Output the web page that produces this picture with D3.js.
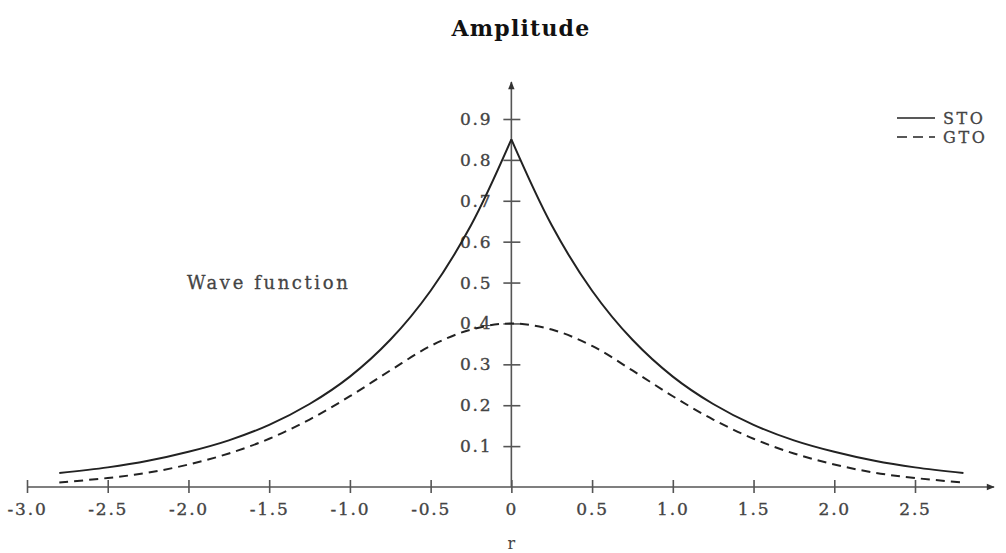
<!DOCTYPE html>
<html>
<head>
<meta charset="utf-8">
<script src="https://cdn.jsdelivr.net/npm/d3@7"></script>
<style>
  body { margin: 0; background: #fff; }
  svg text { font-family: "DejaVu Serif", "Liberation Serif", serif; }
</style>
</head>
<body>
<svg id="chart" width="1006" height="553"></svg>
<script>
// values
var rValues = [-2.8, -2.5, -2.25, -2.0, -1.75, -1.5, -1.25, -1.0, -0.75, -0.5, -0.25, 0,
               0.25, 0.5, 0.75, 1.0, 1.25, 1.5, 1.75, 2.0, 2.25, 2.5, 2.8]
var stoValues = [0.034, 0.048, 0.064, 0.086, 0.114, 0.152, 0.203, 0.27, 0.36, 0.48, 0.64, 0.85,
                 0.64, 0.48, 0.36, 0.27, 0.203, 0.152, 0.114, 0.086, 0.064, 0.048, 0.034]
var gtoValues = [0.011, 0.022, 0.035, 0.055, 0.082, 0.118, 0.165, 0.222, 0.285, 0.345, 0.385, 0.4,
                 0.385, 0.345, 0.285, 0.222, 0.165, 0.118, 0.082, 0.055, 0.035, 0.022, 0.011]
var xTicks = [-3.0, -2.5, -2.0, -1.5, -1.0, -0.5, 0, 0.5, 1.0, 1.5, 2.0, 2.5]
var xTickLabels = ["-3.0", "-2.5", "-2.0", "-1.5", "-1.0", "-0.5", "0", "0.5", "1.0", "1.5", "2.0", "2.5"]
var yTicks = [0.1, 0.2, 0.3, 0.4, 0.5, 0.6, 0.7, 0.8, 0.9]
var yTickLabels = ["0.1", "0.2", "0.3", "0.4", "0.5", "0.6", "0.7", "0.8", "0.9"]
var seriesNames = ["STO", "GTO"]

var svg = d3.select("#chart")

var x = d3.scaleLinear().domain([-3, 2.5]).range([27, 915])
var y = d3.scaleLinear().domain([0, 0.9]).range([487, 119])

var axisColor = "#555"
var lineColor = "#222"
var textColor = "#444"

svg.append("defs").append("marker")
    .attr("id", "arrow")
    .attr("viewBox", "0 0 10 10")
    .attr("refX", 9)
    .attr("refY", 5)
    .attr("markerWidth", 10)
    .attr("markerHeight", 8)
    .attr("markerUnits", "userSpaceOnUse")
    .attr("orient", "auto")
    .append("path")
    .attr("d", "M0,1 L10,5 L0,9 Z")
    .attr("fill", "#333")

// title
svg.append("text")
    .attr("x", 521)
    .attr("y", 36)
    .attr("text-anchor", "middle")
    .attr("font-size", 22)
    .attr("font-weight", "bold")
    .attr("letter-spacing", 1.2)
    .attr("fill", "#111")
    .text("Amplitude")

// x axis
var xAxis = d3.axisBottom(x)
    .tickValues(xTicks)
    .tickSize(6)
    .tickFormat((d, i) => xTickLabels[i])

var gx = svg.append("g")
    .attr("transform", "translate(0," + y(0) + ")")
    .call(xAxis)

gx.select(".domain").remove()
gx.selectAll(".tick line")
    .attr("y1", -7)
    .attr("y2", 6)
    .attr("stroke", axisColor)
    .attr("stroke-width", 1.6)
gx.selectAll(".tick text")
    .attr("y", 16)
    .attr("font-size", 17)
    .attr("letter-spacing", 1.8)
    .attr("fill", textColor)
    .attr("stroke", textColor)
    .attr("stroke-width", 0.35)
    .style("font-family", "DejaVu Serif")

svg.append("line")
    .attr("x1", x(-3))
    .attr("x2", 994)
    .attr("y1", y(0))
    .attr("y2", y(0))
    .attr("stroke", axisColor)
    .attr("stroke-width", 1.6)
    .attr("marker-end", "url(#arrow)")

// y axis
var yAxis = d3.axisLeft(y)
    .tickValues(yTicks)
    .tickSize(8)
    .tickFormat((d, i) => yTickLabels[i])

var gy = svg.append("g")
    .attr("transform", "translate(" + x(0) + ",0)")
    .call(yAxis)

gy.select(".domain").remove()
gy.selectAll(".tick line")
    .attr("x1", -8)
    .attr("x2", 9)
    .attr("stroke", axisColor)
    .attr("stroke-width", 1.6)
gy.selectAll(".tick text")
    .attr("x", -19)
    .attr("font-size", 17)
    .attr("letter-spacing", 1.8)
    .attr("fill", textColor)
    .attr("stroke", textColor)
    .attr("stroke-width", 0.35)
    .style("font-family", "DejaVu Serif")

svg.append("line")
    .attr("x1", x(0))
    .attr("x2", x(0))
    .attr("y1", y(0))
    .attr("y2", 82)
    .attr("stroke", axisColor)
    .attr("stroke-width", 1.6)
    .attr("marker-end", "url(#arrow)")

// curves
var points = rValues.map((r, i) => ({ r: r, sto: stoValues[i], gto: gtoValues[i] }))
var zeroIndex = rValues.indexOf(0)

var stoLine = d3.line()
    .x(d => x(d.r))
    .y(d => y(d.sto))
    .curve(d3.curveCatmullRom.alpha(0.5))

var gtoLine = d3.line()
    .x(d => x(d.r))
    .y(d => y(d.gto))
    .curve(d3.curveCatmullRom.alpha(0.5))

// STO has a cusp at r = 0, so draw each side on its own
svg.append("path")
    .attr("d", stoLine(points.slice(0, zeroIndex + 1)))
    .attr("fill", "none")
    .attr("stroke", lineColor)
    .attr("stroke-width", 2)
svg.append("path")
    .attr("d", stoLine(points.slice(zeroIndex)))
    .attr("fill", "none")
    .attr("stroke", lineColor)
    .attr("stroke-width", 2)

svg.append("path")
    .attr("d", gtoLine(points))
    .attr("fill", "none")
    .attr("stroke", lineColor)
    .attr("stroke-width", 2)
    .attr("stroke-dasharray", "9,6")

// annotation and axis name
svg.append("text")
    .attr("x", 187)
    .attr("y", 289)
    .attr("font-size", 18)
    .attr("letter-spacing", 2.6)
    .attr("fill", textColor)
    .attr("stroke", textColor)
    .attr("stroke-width", 0.3)
    .text("Wave function")

svg.append("text")
    .attr("x", x(0))
    .attr("y", 549)
    .attr("text-anchor", "middle")
    .attr("font-size", 16)
    .attr("fill", textColor)
    .text("r")

// legend
var legend = svg.append("g")
    .selectAll("g")
    .data(seriesNames)
    .enter().append("g")
    .attr("transform", (d, i) => "translate(897," + (118 + i * 19) + ")")

legend.append("line")
    .attr("x1", 0)
    .attr("x2", 38)
    .attr("stroke", lineColor)
    .attr("stroke-width", 1.6)
    .attr("stroke-dasharray", (d, i) => i === 0 ? null : "10,6")

legend.append("text")
    .attr("x", 46)
    .attr("y", 6)
    .attr("font-size", 16)
    .attr("letter-spacing", 2.6)
    .attr("fill", textColor)
    .attr("stroke", textColor)
    .attr("stroke-width", 0.3)
    .text(d => d)
</script>
</body>
</html>
